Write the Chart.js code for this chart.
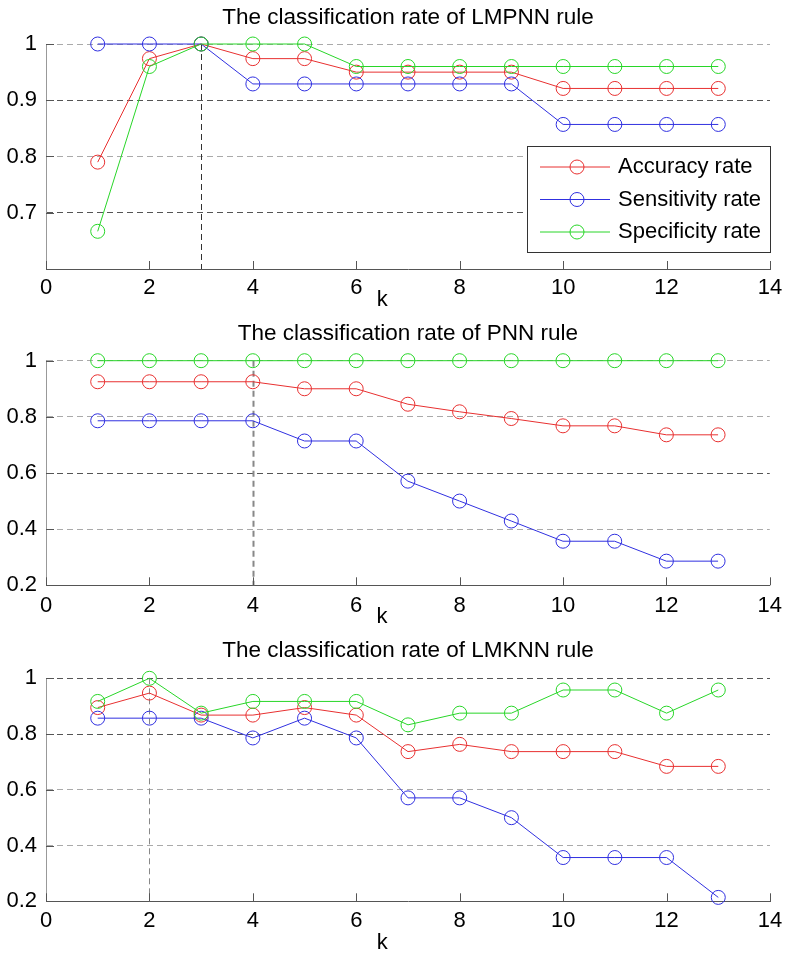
<!DOCTYPE html>
<html>
<head>
<meta charset="utf-8">
<script src="https://cdn.jsdelivr.net/npm/chart.js@4"></script>
<style>
  body { margin: 0; background: #fff; }
  canvas { position: absolute; left: 0; }
</style>
</head>
<body>
<canvas id="c1" style="top:0" width="789" height="316"></canvas>
<canvas id="c2" style="top:310px" width="789" height="322"></canvas>
<canvas id="c3" style="top:620px" width="789" height="340"></canvas>
<script>
// k values and series
const kValues = [1, 2, 3, 4, 5, 6, 7, 8, 9, 10, 11, 12, 13];
const seriesNames = ['Accuracy rate', 'Sensitivity rate', 'Specificity rate'];

const lmpnnAccuracy    = [0.79, 0.974, 1, 0.974, 0.974, 0.95, 0.95, 0.95, 0.95, 0.921, 0.921, 0.921, 0.921];
const lmpnnSensitivity = [1, 1, 1, 0.929, 0.929, 0.929, 0.929, 0.929, 0.929, 0.857, 0.857, 0.857, 0.857];
const lmpnnSpecificity = [0.667, 0.96, 1, 1, 1, 0.96, 0.96, 0.96, 0.96, 0.96, 0.96, 0.96, 0.96];

const pnnAccuracy    = [0.925, 0.925, 0.925, 0.925, 0.9, 0.9, 0.845, 0.818, 0.794, 0.768, 0.768, 0.736, 0.736];
const pnnSensitivity = [0.786, 0.786, 0.786, 0.786, 0.714, 0.714, 0.571, 0.5, 0.429, 0.357, 0.357, 0.286, 0.286];
const pnnSpecificity = [1, 1, 1, 1, 1, 1, 1, 1, 1, 1, 1, 1, 1];

const lmknnAccuracy    = [0.895, 0.947, 0.868, 0.868, 0.895, 0.868, 0.737, 0.763, 0.737, 0.737, 0.737, 0.684, 0.684];
const lmknnSensitivity = [0.857, 0.857, 0.857, 0.786, 0.857, 0.786, 0.571, 0.571, 0.5, 0.357, 0.357, 0.357, 0.214];
const lmknnSpecificity = [0.917, 1, 0.875, 0.917, 0.917, 0.917, 0.833, 0.875, 0.875, 0.958, 0.958, 0.875, 0.958];

const xTickValues = [0, 2, 4, 6, 8, 10, 12, 14];
const yTicksTop = [0.6, 0.7, 0.8, 0.9, 1];
const yTicksLow = [0.2, 0.4, 0.6, 0.8, 1];

const lineColors = ['rgb(232,48,48)', 'rgb(48,48,224)', 'rgb(40,214,40)'];
const FONT = "'Liberation Sans', Arial, sans-serif";
Chart.defaults.font.family = FONT;
Chart.defaults.color = '#000';

const near = (a, b) => Math.abs(a - b) < 1e-6;

function makePanel(id, o) {
  const series = [o.acc, o.sens, o.spec];
  const datasets = series.map((vals, i) => ({
    label: seriesNames[i],
    data: kValues.map((k, j) => ({ x: k, y: vals[j] })),
    borderColor: lineColors[i],
    backgroundColor: 'rgba(0,0,0,0)',
    borderWidth: 1,
    pointRadius: 7,
    pointBorderWidth: 1,
    pointBackgroundColor: 'rgba(0,0,0,0)',
    pointBorderColor: lineColors[i],
    order: 3 - i,
    clip: false
  }));

  const decor = {
    id: 'decor' + id,
    beforeDatasetsDraw(chart) {
      const { ctx, chartArea, scales } = chart;
      const px = scales.x.getPixelForValue(o.bestK);
      ctx.save();
      ctx.strokeStyle = o.refColor;
      ctx.lineWidth = o.refWidth;
      ctx.setLineDash([6, 4]);
      ctx.beginPath();
      ctx.moveTo(Math.round(px) + 0.5, scales.y.getPixelForValue(1));
      ctx.lineTo(Math.round(px) + 0.5, chartArea.bottom);
      ctx.stroke();
      ctx.restore();
    },
    afterDraw(chart) {
      const { ctx, chartArea, scales } = chart;
      ctx.save();
      // inward tick marks
      ctx.strokeStyle = '#555';
      ctx.lineWidth = 1;
      xTickValues.forEach(v => {
        const px = Math.round(scales.x.getPixelForValue(v)) + 0.5;
        ctx.beginPath();
        ctx.moveTo(px, chartArea.bottom);
        ctx.lineTo(px, chartArea.bottom - 8);
        ctx.stroke();
      });
      o.yTicks.forEach(v => {
        const py = Math.round(scales.y.getPixelForValue(v)) + 0.5;
        ctx.beginPath();
        ctx.moveTo(chartArea.left, py);
        ctx.lineTo(chartArea.left + 8, py);
        ctx.stroke();
      });
      // x label
      ctx.fillStyle = '#000';
      ctx.font = '22px ' + FONT;
      ctx.textAlign = 'center';
      ctx.textBaseline = 'middle';
      ctx.fillText('k', scales.x.getPixelForValue(6.5), chartArea.bottom + o.kOffset);
      ctx.restore();
      if (o.legend) drawLegend(chart);
    }
  };

  return new Chart(document.getElementById(id), {
    type: 'line',
    data: { datasets },
    options: {
      responsive: false,
      animation: false,
      layout: { padding: { left: 0, right: 19, top: 0, bottom: 0 } },
      plugins: {
        legend: { display: false },
        tooltip: { enabled: false },
        title: {
          display: true,
          text: o.title,
          fullSize: false,
          color: '#000',
          font: { size: 22.5, weight: 'normal', lineHeight: 1.2 },
          padding: { top: o.titleTop, bottom: o.titleBottom }
        }
      },
      scales: {
        x: {
          type: 'linear',
          min: 0,
          max: 14,
          afterBuildTicks: s => { s.ticks = xTickValues.map(v => ({ value: v })); },
          afterFit: s => { s.height = o.xHeight; },
          grid: { display: false, drawTicks: false },
          border: { display: true, color: '#555', width: 1 },
          ticks: { font: { size: 22 }, color: '#000', padding: o.xPad, maxRotation: 0, autoSkip: false }
        },
        y: {
          min: o.yMin,
          max: 1,
          afterBuildTicks: s => { s.ticks = o.yTicks.map(v => ({ value: v })); },
          afterFit: s => { s.width = 46; },
          grid: {
            drawTicks: false,
            lineWidth: 1,
            color: c => {
              const v = c.tick ? c.tick.value : 0;
              if (near(v, o.yMin)) return 'rgba(0,0,0,0)';
              return o.darkGrid.some(d => near(d, v)) ? '#555' : '#aaa';
            }
          },
          border: { display: true, color: '#999', width: 1, dash: [6, 4] },
          ticks: {
            font: { size: 22 },
            color: '#000',
            padding: 9,
            callback: v => (o.hideMin && near(v, o.yMin)) ? '' : String(+v.toFixed(2))
          }
        }
      }
    },
    plugins: [decor]
  });
}

function drawLegend(chart) {
  const { ctx, chartArea } = chart;
  const w = 243, h = 106;
  const x0 = chartArea.right - w, y0 = chartArea.top + 102;
  ctx.save();
  ctx.fillStyle = '#fff';
  ctx.fillRect(x0, y0, w, h);
  ctx.strokeStyle = '#333';
  ctx.lineWidth = 1;
  ctx.strokeRect(x0 + 0.5, y0 + 0.5, w, h);
  ctx.font = '22px ' + FONT;
  ctx.textAlign = 'left';
  ctx.textBaseline = 'middle';
  chart.data.datasets.forEach((ds, i) => {
    const cy = y0 + 21 + i * 32.5;
    ctx.strokeStyle = ds.borderColor;
    ctx.beginPath();
    ctx.moveTo(x0 + 13, cy);
    ctx.lineTo(x0 + 83, cy);
    ctx.stroke();
    ctx.beginPath();
    ctx.arc(x0 + 50, cy, 7, 0, Math.PI * 2);
    ctx.stroke();
    ctx.fillStyle = '#000';
    ctx.fillText(ds.label, x0 + 91, cy);
  });
  ctx.restore();
}

makePanel('c1', {
  title: 'The classification rate of LMPNN rule',
  acc: lmpnnAccuracy, sens: lmpnnSensitivity, spec: lmpnnSpecificity,
  yMin: 0.6, yTicks: yTicksTop, hideMin: true, darkGrid: [0.7, 0.9],
  bestK: 3, refColor: '#333', refWidth: 1,
  titleTop: 4.5, titleBottom: 12.5, xHeight: 47, xPad: 6, kOffset: 31,
  legend: true
});

makePanel('c2', {
  title: 'The classification rate of PNN rule',
  acc: pnnAccuracy, sens: pnnSensitivity, spec: pnnSpecificity,
  yMin: 0.2, yTicks: yTicksLow, hideMin: false, darkGrid: [0.6],
  bestK: 4, refColor: '#888', refWidth: 2,
  titleTop: 10, titleBottom: 13.7, xHeight: 46.7, xPad: 7, kOffset: 32,
  legend: false
});

makePanel('c3', {
  title: 'The classification rate of LMKNN rule',
  acc: lmknnAccuracy, sens: lmknnSensitivity, spec: lmknnSpecificity,
  yMin: 0.2, yTicks: yTicksLow, hideMin: false, darkGrid: [1, 0.8],
  bestK: 2, refColor: '#888', refWidth: 1,
  titleTop: 17.5, titleBottom: 13.8, xHeight: 58.7, xPad: 6, kOffset: 42,
  legend: false
});
</script>
</body>
</html>
